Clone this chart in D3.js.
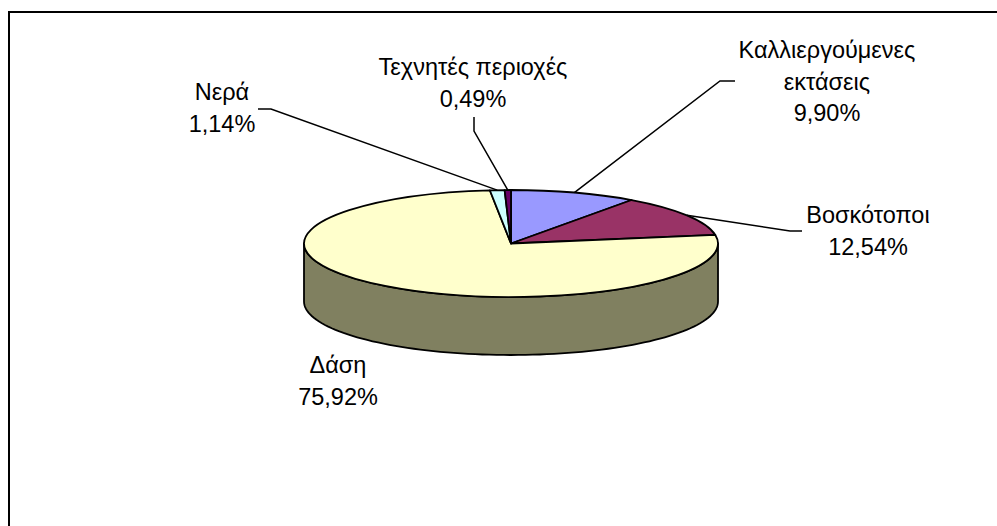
<!DOCTYPE html>
<html>
<head>
<meta charset="utf-8">
<script src="https://cdn.jsdelivr.net/npm/d3@7"></script>
<style>
html, body { margin: 0; padding: 0; background: #fff; }
svg { display: block; }
text { font-family: "Liberation Sans", Arial, sans-serif; font-size: 23.5px; fill: #000; }
</style>
</head>
<body>
<div id="chart"></div>
<script>
// pie values, clockwise from 12 o'clock
var values = [9.90, 12.54, 75.92, 1.14, 0.49];
var colors = ['#9999ff', '#993366', '#ffffcc', '#ccffff', '#660066'];

var labelLines = [['Καλλιεργούμενες', 'εκτάσεις', '9,90%'], ['Βοσκότοποι', '12,54%'], ['Δάση', '75,92%'], ['Νερά', '1,14%'], ['Τεχνητές περιοχές', '0,49%']];
var labelCenters = [[827, 58], [868, 223], [338, 373], [222, 100], [473, 75]];
// leader lines: [label end, elbow], last point comes from the slice
var leaders = [[[735, 81], [720, 81]], [[802, 231], [790, 231]], null, [[258, 109], [271, 109]], [[474, 117], [474, 131]]];

var svgWidth = 997, svgHeight = 526;
var cx = 511, cy = 243.5, rx = 207, ry = 53.5, depth = 58;

var svg = d3.select('#chart').append('svg')
    .attr('width', svgWidth)
    .attr('height', svgHeight);

// frame only shows on the top and left, the rest runs off the page
svg.append('path')
    .attr('d', d3.line()([[9, svgHeight], [9, 12], [svgWidth, 12]]))
    .attr('fill', 'none')
    .attr('stroke', '#000')
    .attr('stroke-width', 2);

var pie = d3.pie().sort(null).value(function(d){ return d; });
var slices = pie(values);

var px = function(a){ return cx + rx * Math.sin(a); };
var py = function(a){ return cy - ry * Math.cos(a); };

// wall of the cylinder, rightmost point round the front to the leftmost
var front = d3.range(Math.PI / 2, 3 * Math.PI / 2 + 0.001, Math.PI / 90);
var wall = front.map(function(a){ return [px(a), py(a) + depth]; });
front.slice().reverse().forEach(function(a){ wall.push([px(a), py(a)]); });

svg.append('path')
    .attr('d', d3.line()(wall) + 'Z')
    .attr('fill', '#808060')
    .attr('stroke', '#000')
    .attr('stroke-width', 1.8)
    .attr('stroke-linejoin', 'round');

var arc = d3.arc().innerRadius(0).outerRadius(rx);

svg.append('g')
    .attr('transform', 'translate(' + cx + ',' + cy + ') scale(1,' + (ry / rx) + ')')
    .selectAll('path')
    .data(slices)
    .enter().append('path')
    .attr('d', arc)
    .attr('fill', function(d, i){ return colors[i]; })
    .attr('stroke', '#000')
    .attr('stroke-width', 1.8)
    .attr('stroke-linejoin', 'round')
    .attr('vector-effect', 'non-scaling-stroke');

// leader lines run to the middle of each slice's rim
slices.forEach(function(d, i){
    if(!leaders[i]) return;
    var mid = (d.startAngle + d.endAngle) / 2;
    svg.append('path')
	.attr('d', d3.line()(leaders[i].concat([[px(mid), py(mid)]])))
	.attr('fill', 'none')
	.attr('stroke', '#000')
	.attr('stroke-width', 1.5);
});

labelLines.forEach(function(lines, i){
    var t = svg.append('text').attr('text-anchor', 'middle');
    lines.forEach(function(s, j){
	t.append('tspan')
	    .attr('x', labelCenters[i][0])
	    .attr('y', labelCenters[i][1] + j * 31.5)
	    .text(s);
    });
});
</script>
</body>
</html>
